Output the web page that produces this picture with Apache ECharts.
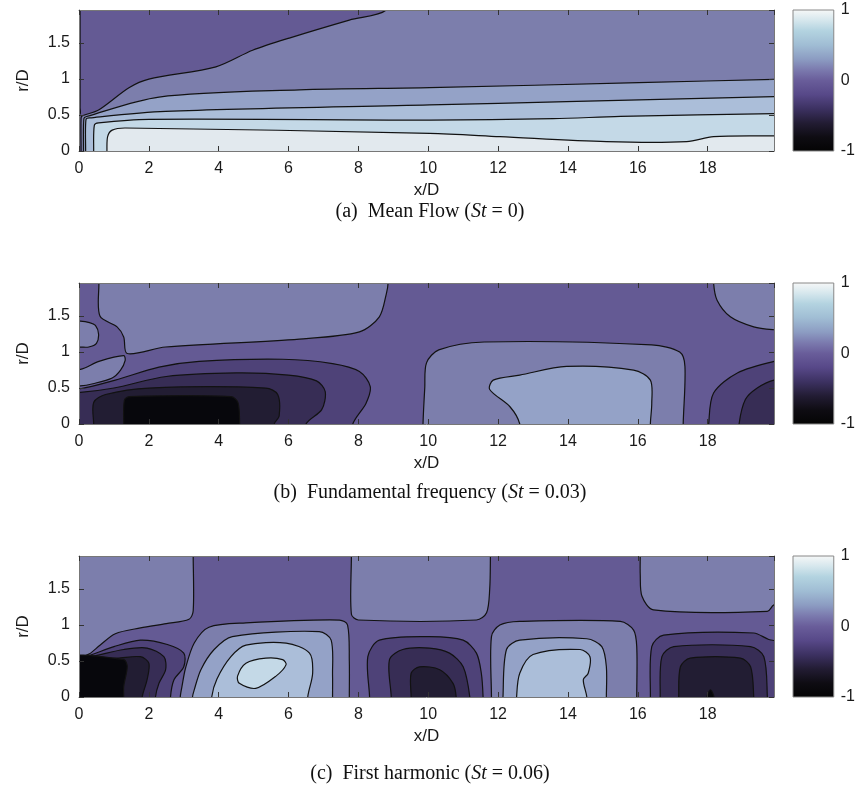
<!DOCTYPE html>
<html><head><meta charset="utf-8">
<script src="https://cdn.jsdelivr.net/npm/echarts@6/dist/echarts.min.js"></script>
<style>html,body{margin:0;padding:0;background:#fff}#c{width:858px;height:796px}</style>
</head><body><div id="c"></div>
<script>
// ================= DATA =================
const X_MAX = 19.9, R_MAX = 1.96;
const xTickStep = 2, rTickStep = 0.5;
const cbarTicks = [-1, 0, 1];
// contour band edges (value), one color per band
const bandEdges = [-1, -0.8, -0.6, -0.4, -0.2, 0, 0.2, 0.4, 0.6, 0.8, 1];
const bandColors = ['#07070c', '#221d33', '#372d55', '#4e4278', '#645a94', '#7c7eac', '#94a2c7', '#abbed9', '#c4d9e7', '#e2e9ee'];
// colour bar gradient stops [value, colour]
const cbarStops = [[1, '#f7f8f8'], [0.85, '#d6e7ed'], [0.7, '#b3d3e0'], [0.5, '#a0bdd4'], [0.3, '#8c9cc2'], [0.15, '#7b7aae'], [0, '#695d9a'], [-0.2, '#574888'], [-0.4, '#3c3161'], [-0.6, '#221c33'], [-0.8, '#0e0c12'], [-1, '#040404']];

// ---- (a) Mean flow: contour regions [x/D, r/D] ----
const a_bg = [[-1, -1], [21, -1], [21, 3], [-1, 3]];
const a_edge = [[-1, 0.5], [0.02, 0.51], [0.03, 0.6], [0.03, 1.0], [0.03, 1.5], [0.03, 1.96], [0.03, 2.3], [-1, 2.3]];
const a_gp = [[0.06, -0.3], [0.06, 0.0], [0.06, 0.46], [0.1, 0.49], [0.56, 0.57], [1.43, 0.88], [2.0, 1.0], [3.92, 1.17], [4.97, 1.4], [6.02, 1.57], [7.74, 1.82], [8.8, 1.96], [8.9, 2.3], [20.5, 2.3], [20.5, -0.3]];
const a_lav = [[0.13, -0.3], [0.13, 0.0], [0.14, 0.45], [0.22, 0.48], [2.29, 0.75], [6.31, 0.85], [10.04, 0.88], [16.02, 0.95], [19.9, 0.995], [20.5, 1.0], [20.5, -0.3]];
const a_llav = [[0.19, -0.3], [0.19, 0.0], [0.2, 0.44], [0.3, 0.46], [2.48, 0.55], [10.04, 0.64], [13.96, 0.685], [19.9, 0.755], [20.5, 0.76], [20.5, -0.3]];
const a_lblue = [[0.42, -0.3], [0.42, 0.0], [0.44, 0.36], [0.56, 0.39], [2.0, 0.44], [10.04, 0.43], [13.58, 0.45], [15.5, 0.48], [19.9, 0.52], [20.5, 0.52], [20.5, -0.3]];
const a_core = [[0.8, -0.3], [0.8, 0.0], [0.82, 0.2], [0.95, 0.29], [1.33, 0.32], [10.04, 0.245], [12.05, 0.2], [15.1, 0.13], [17.4, 0.13], [18.17, 0.2], [19.9, 0.21], [20.5, 0.21], [20.5, -0.3]];
const aLevels = [-0.1, -0.3, 0.1, 0.3, 0.5, 0.7, 0.9];
const aContours = [a_bg, a_edge, a_gp, a_lav, a_llav, a_lblue, a_core];

// ---- (b) Fundamental frequency ----
const b_bg = [[-1, -1], [21, -1], [21, 3], [-1, 3]];
const b_gpTop = [[0.57, 2.3], [0.57, 1.96], [0.6, 1.5], [1.09, 1.35], [1.28, 1.21], [1.38, 0.98], [2.48, 1.07], [6.31, 1.18], [8.03, 1.28], [8.6, 1.49], [8.8, 1.81], [8.85, 1.96], [8.85, 2.3]];
const b_gpOval = [[-0.5, 1.43], [0.04, 1.43], [0.3, 1.41], [0.47, 1.37], [0.56, 1.25], [0.5, 1.12], [0.28, 1.07], [0.04, 1.07], [-0.5, 1.07]];
const b_gpLow = [[-0.5, 0.78], [0.04, 0.76], [0.57, 0.87], [1.28, 0.95], [1.32, 0.88], [1.19, 0.75], [0.95, 0.64], [0.4, 0.56], [0.04, 0.53], [-0.5, 0.53]];
const b_d1 = [[-0.5, 0.49], [0.04, 0.49], [1.04, 0.61], [2.29, 0.79], [3.44, 0.87], [5.83, 0.9], [7.26, 0.84], [8.03, 0.73], [8.34, 0.52], [8.22, 0.29], [7.84, 0.0], [7.84, -0.3], [-0.5, -0.3]];
const b_d2 = [[-0.5, 0.44], [0.04, 0.44], [1.0, 0.5], [2.5, 0.66], [4.5, 0.71], [6.0, 0.68], [6.8, 0.6], [7.05, 0.45], [6.95, 0.2], [6.5, 0.0], [6.5, -0.3], [-0.5, -0.3]];
const b_d3 = [[0.42, -0.3], [0.42, 0.0], [0.42, 0.3], [0.76, 0.41], [2.0, 0.5], [5.35, 0.5], [5.69, 0.41], [5.73, 0.11], [5.59, 0.0], [5.59, -0.3]];
const b_black = [[1.28, -0.3], [1.28, 0.0], [1.3, 0.33], [1.45, 0.38], [4.35, 0.38], [4.55, 0.3], [4.6, 0.0], [4.6, -0.3]];
const b_gpMid = [[9.85, -0.3], [9.85, 0.0], [9.9, 0.5], [9.95, 0.85], [10.3, 1.03], [11.6, 1.14], [16.4, 1.1], [17.2, 1.0], [17.35, 0.8], [17.3, 0.0], [17.3, -0.3]];
const b_lavMid = [[12.62, -0.3], [12.62, 0.0], [12.34, 0.24], [11.76, 0.48], [11.86, 0.61], [12.62, 0.68], [13.96, 0.8], [15.88, 0.75], [16.36, 0.61], [16.4, 0.29], [16.36, 0.0], [16.36, -0.3]];
const b_gpTR = [[18.17, 2.3], [18.17, 1.96], [18.27, 1.72], [18.65, 1.49], [19.32, 1.35], [19.9, 1.31], [20.5, 1.3], [20.5, 2.3]];
const b_d1R = [[18.03, -0.3], [18.03, 0.0], [18.17, 0.43], [18.85, 0.71], [19.9, 0.87], [20.5, 0.9], [20.5, -0.3]];
const b_d2R = [[18.9, -0.3], [18.9, 0.0], [19.08, 0.34], [19.42, 0.5], [19.9, 0.61], [20.5, 0.63], [20.5, -0.3]];
const bLevels = [-0.1, 0.1, 0.1, 0.1, -0.3, -0.5, -0.7, -0.9, 0.1, 0.3, 0.1, -0.3, -0.5];
const bContours = [b_bg, b_gpTop, b_gpOval, b_gpLow, b_d1, b_d2, b_d3, b_black, b_gpMid, b_lavMid, b_gpTR, b_d1R, b_d2R];

// ---- (c) First harmonic ----
const c_bg = [[-1, -1], [21, -1], [21, 3], [-1, 3]];
const c_gpTL = [[-0.5, 2.3], [3.27, 2.3], [3.27, 1.96], [3.27, 1.2], [3.15, 1.08], [2.5, 1.02], [1.76, 0.96], [1.04, 0.88], [0.6, 0.72], [0.3, 0.6], [0.08, 0.56], [-0.5, 0.55]];
const c_d1L = [[-0.5, 0.545], [0.1, 0.55], [1.0, 0.7], [1.76, 0.79], [2.53, 0.73], [3.0, 0.61], [3.0, 0.42], [2.72, 0.24], [2.62, 0.0], [2.62, -0.3], [-0.5, -0.3]];
const c_d2L = [[-0.5, 0.54], [0.2, 0.55], [1.28, 0.66], [1.95, 0.68], [2.43, 0.56], [2.48, 0.38], [2.29, 0.19], [2.19, 0.0], [2.19, -0.3], [-0.5, -0.3]];
const c_d3L = [[-0.5, 0.53], [0.3, 0.54], [1.09, 0.54], [1.76, 0.56], [2.0, 0.47], [1.95, 0.24], [1.81, 0.0], [1.81, -0.3], [-0.5, -0.3]];
const c_blackL = [[-0.5, 0.52], [1.28, 0.52], [1.38, 0.42], [1.28, 0.15], [1.28, 0.0], [1.28, -0.3], [-0.5, -0.3]];
const c_gpMid = [[2.9, -0.3], [2.9, 0.0], [2.95, 0.15], [3.05, 0.4], [3.3, 0.75], [3.72, 0.97], [4.78, 1.03], [7.46, 1.07], [7.69, 1.0], [7.74, 0.5], [7.74, 0.0], [7.74, -0.3]];
const c_lavMid = [[3.25, -0.3], [3.25, 0.0], [3.3, 0.1], [3.49, 0.38], [3.87, 0.66], [4.39, 0.84], [6.88, 0.91], [7.22, 0.79], [7.26, 0.3], [7.26, 0.0], [7.26, -0.3]];
const c_llavMid = [[3.8, -0.3], [3.8, 0.0], [3.95, 0.25], [4.35, 0.56], [4.78, 0.72], [5.93, 0.75], [6.6, 0.61], [6.69, 0.33], [6.55, 0.0], [6.55, -0.3]];
const c_lblueMid = [[4.54, 0.29], [4.78, 0.47], [5.35, 0.54], [5.83, 0.52], [5.93, 0.45], [5.64, 0.29], [5.06, 0.12], [4.59, 0.19]];
const c_gpTM = [[7.8, 2.3], [7.8, 1.96], [7.8, 1.15], [8.0, 1.07], [11.38, 1.07], [11.67, 1.17], [11.76, 1.5], [11.78, 1.96], [11.78, 2.3]];
const c_d1M = [[8.32, -0.3], [8.32, 0.0], [8.27, 0.56], [8.6, 0.79], [10.04, 0.84], [11.0, 0.79], [11.38, 0.61], [11.52, 0.33], [11.57, 0.0], [11.57, -0.3]];
const c_d2M = [[8.94, -0.3], [8.94, 0.0], [8.89, 0.52], [9.27, 0.66], [10.04, 0.68], [10.61, 0.61], [11.0, 0.42], [11.19, 0.0], [11.19, -0.3]];
const c_d3M = [[9.51, -0.3], [9.51, 0.0], [9.51, 0.33], [9.75, 0.42], [10.33, 0.38], [10.71, 0.19], [10.8, 0.0], [10.8, -0.3]];
const c_gpRM = [[11.81, -0.3], [11.81, 0.0], [11.81, 0.84], [12.05, 1.0], [12.62, 1.05], [15.5, 1.05], [15.88, 0.93], [15.97, 0.7], [15.97, 0.0], [15.97, -0.3]];
const c_lavRM = [[12.14, -0.3], [12.14, 0.0], [12.24, 0.66], [12.62, 0.79], [14.54, 0.81], [14.97, 0.7], [15.1, 0.42], [15.1, 0.0], [15.1, -0.3]];
const c_llavRM = [[12.53, -0.3], [12.53, 0.0], [12.62, 0.33], [13.0, 0.59], [14.35, 0.66], [14.63, 0.56], [14.58, 0.33], [14.44, 0.24], [14.54, 0.0], [14.54, -0.3]];
const c_gpTR = [[16.07, 2.3], [16.07, 1.96], [16.07, 1.7], [16.12, 1.4], [16.45, 1.21], [19.71, 1.19], [19.9, 1.28], [20.5, 1.3], [20.5, 2.3]];
const c_d1R = [[16.36, -0.3], [16.36, 0.0], [16.4, 0.7], [16.74, 0.86], [19.32, 0.89], [19.75, 0.8], [20.5, 0.7], [20.5, -0.3]];
const c_d2R = [[16.64, -0.3], [16.64, 0.0], [16.69, 0.56], [17.03, 0.7], [19.23, 0.7], [19.61, 0.56], [19.71, 0.0], [19.71, -0.3]];
const c_d3R = [[17.17, -0.3], [17.17, 0.0], [17.22, 0.42], [17.5, 0.54], [18.94, 0.54], [19.23, 0.42], [19.32, 0.0], [19.32, -0.3]];
const c_blackR = [[17.98, -0.3], [17.98, 0.0], [18.08, 0.1], [18.18, 0.0], [18.18, -0.3]];
const cLevels = [-0.1, 0.1, -0.3, -0.5, -0.7, -0.9, 0.1, 0.3, 0.5, 0.7, 0.1, -0.3, -0.5, -0.7, 0.1, 0.3, 0.5, 0.1, -0.3, -0.5, -0.7, -0.9];
const cContours = [c_bg, c_gpTL, c_d1L, c_d2L, c_d3L, c_blackL, c_gpMid, c_lavMid, c_llavMid, c_lblueMid, c_gpTM, c_d1M, c_d2M, c_d3M, c_gpRM, c_lavRM, c_llavRM, c_gpTR, c_d1R, c_d2R, c_d3R, c_blackR];

const captions = [
  ['(a)  Mean Flow (', ' = 0)'],
  ['(b)  Fundamental frequency (', ' = 0.03)'],
  ['(c)  First harmonic (', ' = 0.06)']
];

// ================= LAYOUT / STYLE =================
const panelTop = [10, 283, 556];
const plotH = 141, plotLeft = 79, plotW = 695;
const cbarLeft = 793, cbarW = 42;
const captionY = [212, 493, 774];
const SANS = 'Liberation Sans, Arial, sans-serif';
const SERIF = 'Liberation Serif, Times New Roman, serif';
const axisCol = '#777';
const levelSets = [aLevels, bLevels, cLevels];
const contourSets = [aContours, bContours, cContours];

const grids = [], xAxes = [], yAxes = [], series = [];
for (let p = 0; p < 3; p++) {
  grids.push({left: plotLeft, top: panelTop[p], width: plotW, height: plotH});
}
for (let p = 0; p < 3; p++) {
  grids.push({left: cbarLeft, top: panelTop[p], width: cbarW, height: plotH});
}
const tickStyle = {inside: true, length: 5, lineStyle: {color: '#333', width: 1}};
for (let p = 0; p < 3; p++) {
  xAxes.push({
    type: 'value', gridIndex: p, min: 0, max: X_MAX, interval: xTickStep, position: 'bottom', z: 10,
    axisLine: {show: true, onZero: false, lineStyle: {color: axisCol}},
    axisTick: tickStyle, splitLine: {show: false},
    axisLabel: {showMaxLabel: false, color: '#1a1a1a', fontSize: 16, fontFamily: SANS, margin: 10},
    name: 'x/D', nameLocation: 'middle', nameGap: 31,
    nameTextStyle: {color: '#1a1a1a', fontSize: 17, fontFamily: SANS}
  });
  xAxes.push({
    type: 'value', gridIndex: p, min: 0, max: X_MAX, interval: xTickStep, position: 'top', z: 10,
    axisLine: {show: true, onZero: false, lineStyle: {color: axisCol}},
    axisTick: tickStyle, splitLine: {show: false}, axisLabel: {show: false}
  });
  yAxes.push({
    type: 'value', gridIndex: p, min: 0, max: R_MAX, interval: rTickStep, position: 'left', z: 10,
    axisLine: {show: true, onZero: false, lineStyle: {color: axisCol}},
    axisTick: tickStyle, splitLine: {show: false},
    axisLabel: {showMaxLabel: false, color: '#1a1a1a', fontSize: 16, fontFamily: SANS, margin: 9},
    name: 'r/D', nameLocation: 'middle', nameGap: 47, nameRotate: 90,
    nameTextStyle: {color: '#1a1a1a', fontSize: 17, fontFamily: SANS}
  });
  yAxes.push({
    type: 'value', gridIndex: p, min: 0, max: R_MAX, interval: rTickStep, position: 'right', z: 10,
    axisLine: {show: true, onZero: false, lineStyle: {color: axisCol}},
    axisTick: tickStyle, splitLine: {show: false}, axisLabel: {show: false}
  });
}
for (let p = 0; p < 3; p++) {
  xAxes.push({type: 'value', gridIndex: 3 + p, min: 0, max: 1, show: false});
  yAxes.push({
    type: 'value', gridIndex: 3 + p, min: cbarTicks[0], max: cbarTicks[cbarTicks.length - 1], interval: 1, position: 'right', z: 10,
    axisLine: {show: false}, axisTick: {show: false}, splitLine: {show: false},
    axisLabel: {color: '#1a1a1a', fontSize: 16, fontFamily: SANS, margin: 7}
  });
}

function contourRenderer(contours) {
  return function (params, api) {
    const idx = api.value(1);
    const pts = contours[idx].map(pt => api.coord(pt));
    return {
      type: 'polygon',
      shape: {points: pts, smooth: 0.3},
      style: {fill: api.visual('color'), stroke: '#121212', lineWidth: 1.2}
    };
  };
}
for (let p = 0; p < 3; p++) {
  series.push({
    type: 'custom', xAxisIndex: 2 * p, yAxisIndex: 2 * p, clip: true, silent: true,
    data: levelSets[p].map((lv, i) => [lv, i]),
    encode: {x: -1, y: -1},
    dimensions: ['level', 'idx'],
    renderItem: contourRenderer(contourSets[p])
  });
}
const gradStops = cbarStops.map(s => ({offset: (1 - s[0]) / 2, color: s[1]}));
for (let p = 0; p < 3; p++) {
  series.push({
    type: 'custom', xAxisIndex: 6 + p, yAxisIndex: 6 + p, silent: true,
    data: [[0, 0]],
    renderItem: function (params, api) {
      const p0 = api.coord([0, cbarTicks[cbarTicks.length - 1]]);
      const p1 = api.coord([1, cbarTicks[0]]);
      return {
        type: 'rect',
        shape: {x: p0[0], y: p0[1], width: p1[0] - p0[0], height: p1[1] - p0[1]},
        style: {fill: new echarts.graphic.LinearGradient(0, 0, 0, 1, gradStops), stroke: '#888', lineWidth: 1}
      };
    }
  });
}

const graphics = captions.map((c, p) => ({
  type: 'text', x: 430, y: captionY[p],
  style: {
    text: '{t|' + c[0] + '}{i|St}{t|' + c[1] + '}',
    align: 'center', verticalAlign: 'middle',
    rich: {
      t: {fontFamily: SERIF, fontSize: 20, fill: '#111'},
      i: {fontFamily: SERIF, fontSize: 20, fontStyle: 'italic', fill: '#111'}
    }
  }
}));

const chart = echarts.init(document.getElementById('c'), null, {renderer: 'canvas'});
chart.setOption({
  animation: false,
  backgroundColor: '#fff',
  grid: grids, xAxis: xAxes, yAxis: yAxes,
  visualMap: {
    type: 'piecewise', show: false, dimension: 0, seriesIndex: [0, 1, 2],
    pieces: bandColors.map((col, i) => ({gte: bandEdges[i], lt: bandEdges[i + 1], color: col}))
  },
  series: series,
  graphic: graphics
});
</script></body></html>
